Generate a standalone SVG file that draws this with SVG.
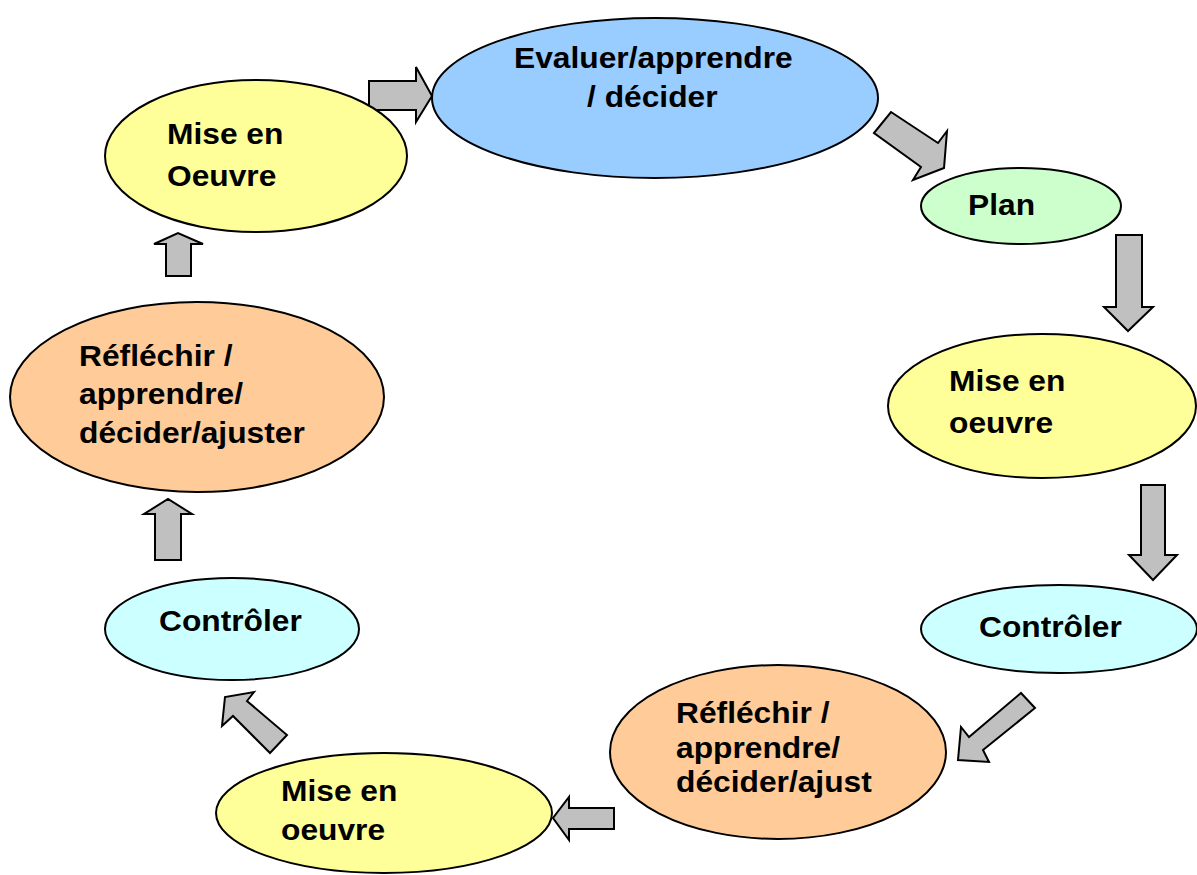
<svg xmlns="http://www.w3.org/2000/svg" width="1197" height="875" viewBox="0 0 1197 875">
<style>
.n{stroke:#000;stroke-width:2}
.a{fill:#C0C0C0;stroke:#000;stroke-width:2;stroke-linejoin:miter}
.t{font-family:"Liberation Sans",Arial,sans-serif;font-weight:bold;font-size:29px;fill:#000}
</style>
<rect width="1197" height="875" fill="#fff"/>
<g id="connectors">
<polygon class="a" points="369,81 416,81 416,67 432,96 416,122 416,110 369,110"/>
<polygon class="a" points="874,133 891,112 938,143 947,131 944,168 913,180 921,167"/>
<polygon class="a" points="1116,235 1142,235 1142,307 1153,307 1128,331 1104,307 1116,307"/>
<polygon class="a" points="1141,485 1165,485 1165,555 1177,555 1153,580 1129,555 1141,555"/>
<polygon class="a" points="1021,693 1035,708 983,750 989,762 958,760 961,727 969,737"/>
<polygon class="a" points="614,808 614,829 569,829 569,840 553,818 569,797 569,808"/>
<polygon class="a" points="287,735 270,753 233,716 222,726 225,697 254,692 247,701"/>
<polygon class="a" points="155,560 181,560 181,514 192,514 168,499 144,514 155,514"/>
<polygon class="a" points="166,276 191,276 191,244 203,244 178,233 154,244 166,244"/>
</g>
<g id="evaluer">
<ellipse class="n" cx="655" cy="98" rx="223" ry="80" fill="#99CCFF"/>
<text class="t" transform="translate(514,68) scale(1.095,1)">Evaluer/apprendre</text>
<text class="t" transform="translate(587,107) scale(1.095,1)">/ décider</text>
</g>
<g id="plan">
<ellipse class="n" cx="1021" cy="206" rx="100" ry="38" fill="#CCFFCC"/>
<text class="t" transform="translate(968,215) scale(1.095,1)">Plan</text>
</g>
<g id="mise-droite">
<ellipse class="n" cx="1042" cy="406" rx="154" ry="72" fill="#FFFF99"/>
<text class="t" transform="translate(949,391) scale(1.095,1)">Mise en</text>
<text class="t" transform="translate(949,433) scale(1.095,1)">oeuvre</text>
</g>
<g id="controler-droite">
<ellipse class="n" cx="1059" cy="629" rx="138" ry="44" fill="#CCFFFF"/>
<text class="t" transform="translate(979,637) scale(1.095,1)">Contrôler</text>
</g>
<g id="reflechir-droite">
<ellipse class="n" cx="778" cy="752" rx="168" ry="87" fill="#FFCC99"/>
<text class="t" transform="translate(676,723) scale(1.095,1)">Réfléchir /</text>
<text class="t" transform="translate(676,758) scale(1.095,1)">apprendre/</text>
<text class="t" transform="translate(676,792) scale(1.095,1)">décider/ajust</text>
</g>
<g id="mise-bas">
<ellipse class="n" cx="384" cy="813" rx="168" ry="60" fill="#FFFF99"/>
<text class="t" transform="translate(281,801) scale(1.095,1)">Mise en</text>
<text class="t" transform="translate(281,840) scale(1.095,1)">oeuvre</text>
</g>
<g id="controler-gauche">
<ellipse class="n" cx="232" cy="629" rx="127" ry="51" fill="#CCFFFF"/>
<text class="t" transform="translate(159,631) scale(1.095,1)">Contrôler</text>
</g>
<g id="reflechir-gauche">
<ellipse class="n" cx="197" cy="397" rx="187" ry="95" fill="#FFCC99"/>
<text class="t" transform="translate(79,366) scale(1.095,1)">Réfléchir /</text>
<text class="t" transform="translate(79,404) scale(1.095,1)">apprendre/</text>
<text class="t" transform="translate(79,443) scale(1.095,1)">décider/ajuster</text>
</g>
<g id="mise-haut">
<ellipse class="n" cx="256" cy="156" rx="151" ry="76" fill="#FFFF99"/>
<text class="t" transform="translate(167,144) scale(1.095,1)">Mise en</text>
<text class="t" transform="translate(167,186) scale(1.095,1)">Oeuvre</text>
</g>
</svg>
